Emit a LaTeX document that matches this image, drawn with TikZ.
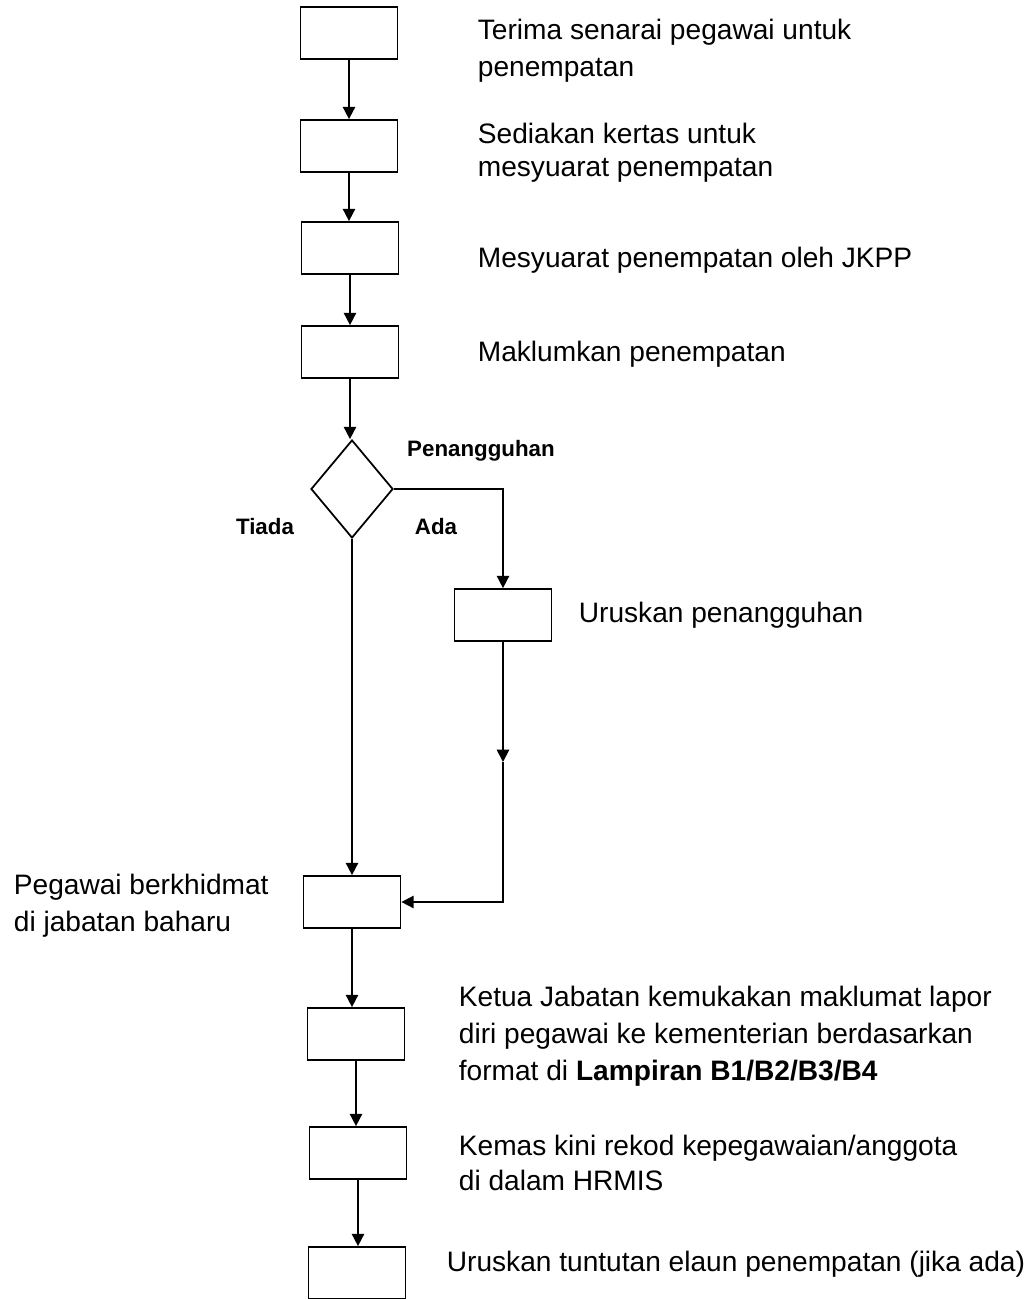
\documentclass[tikz,border=0pt]{standalone}
\usepackage{fontspec}
\setmainfont{Liberation Sans}
\usetikzlibrary{positioning, arrows.meta, shapes.geometric}

\begin{document}
\begin{tikzpicture}[
    x=0.02cm, y=-0.02cm,
    >={Triangle[length=7pt, width=7pt]},
    line width=1pt,
    stepBox/.style={draw, minimum width=1.94cm, minimum height=1.04cm, inner sep=0pt},
    decisionBox/.style={draw, diamond, minimum width=1.64cm, minimum height=1.96cm, inner sep=0pt},
    stepText/.style={anchor=west, align=left, inner sep=0pt, font=\fontsize{16}{21}\selectfont},
    branchText/.style={inner sep=0pt, font=\fontsize{12.7}{15}\selectfont\bfseries}
]
\useasboundingbox (0,0) rectangle (1034,1299);

% boxes
\node[stepBox] (terima) at (349, 33) {};
\node[stepBox] (sediakan) at (349, 146) {};
\node[stepBox] (mesyuarat) at (350, 248) {};
\node[stepBox] (maklum) at (350, 352) {};
\node[decisionBox] (tangguh) at (352, 489) {};
\node[stepBox] (urus) at (503, 615) {};
\node[stepBox] (khidmat) at (352, 902) {};
\node[stepBox] (lapor) at (356, 1034) {};
\node[stepBox] (rekod) at (358, 1153) {};
\node[stepBox] (elaun) at (357, 1273) {};

% texts
\node[stepText] (terimaText) at (477, 51) {Terima senarai pegawai untuk\\penempatan};
\node[stepText, font=\fontsize{16}{18.7}\selectfont] (sediakanText) at (477, 153) {Sediakan kertas untuk\\mesyuarat penempatan};
\node[stepText] (mesyuaratText) at (477, 260) {Mesyuarat penempatan oleh JKPP};
\node[stepText] (maklumText) at (477, 354) {Maklumkan penempatan};
\node[stepText] (urusText) at (578, 615) {Uruskan penangguhan};
\node[stepText] (khidmatText) at (13, 906) {Pegawai berkhidmat\\di jabatan baharu};
\node[stepText] (laporText) at (458, 1036) {Ketua Jabatan kemukakan maklumat lapor\\diri pegawai ke kementerian berdasarkan\\format di \textbf{Lampiran B1/B2/B3/B4}};
\node[stepText, font=\fontsize{16}{20.4}\selectfont] (rekodText) at (458, 1163) {Kemas kini rekod kepegawaian/anggota\\di dalam HRMIS};
\node[stepText] (elaunText) at (446, 1264) {Uruskan tuntutan elaun penempatan (jika ada)};

\node[branchText] (tangguhLabel) at (481, 451) {Penangguhan};
\node[branchText] (tiadaLabel) at (265, 527) {Tiada};
\node[branchText] (adaLabel) at (436, 527) {Ada};

% connectors
\draw[->] (terima) -- (sediakan);
\draw[->] (sediakan) -- (sediakan.south |- mesyuarat.north);
\draw[->] (mesyuarat) -- (maklum);
\draw[->] (maklum.south) -- (maklum.south |- tangguh.north);
\draw[->] (tangguh.east) -| (urus.north);
\draw[->] (tangguh.south) -- (khidmat.north);

\coordinate (midUrus) at (urus.south |- 0, 762);
\draw[->] (urus.south) -- (midUrus);
\draw[->] (midUrus) |- (khidmat.east);

\draw[->] (khidmat.south) -- (khidmat.south |- lapor.north);
\draw[->] (lapor.south) -- (lapor.south |- rekod.north);
\draw[->] (rekod.south) -- (rekod.south |- elaun.north);

\end{tikzpicture}
\end{document}
